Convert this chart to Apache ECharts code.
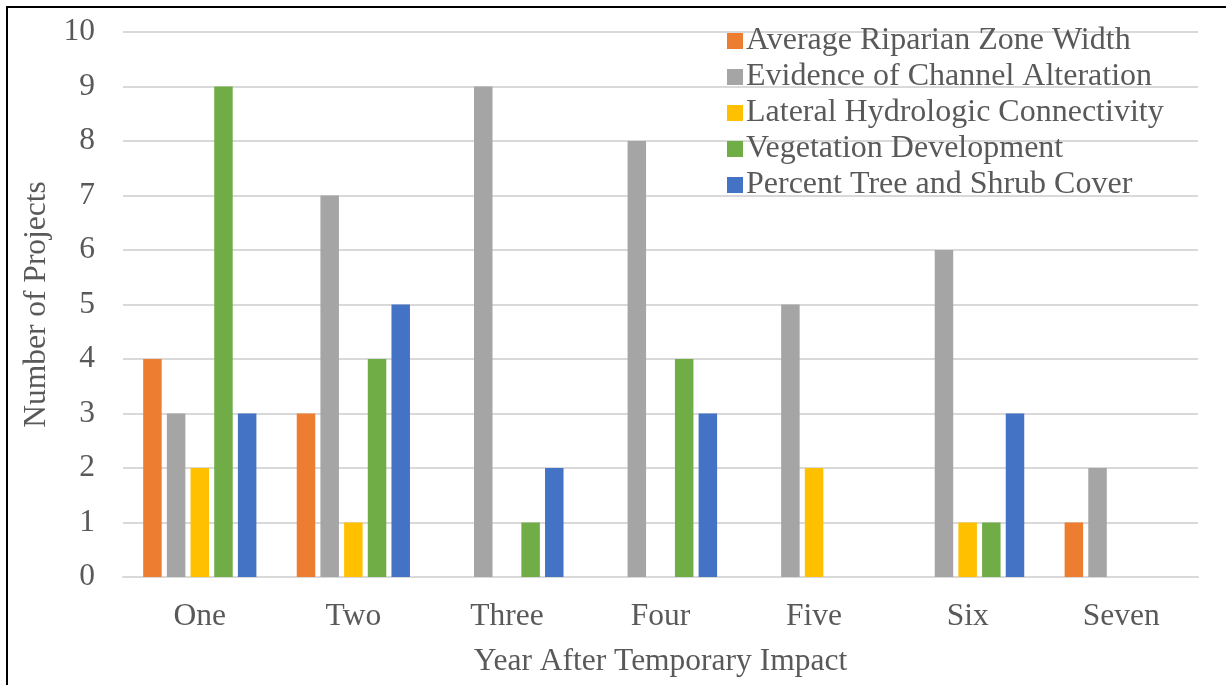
<!DOCTYPE html>
<html>
<head>
<meta charset="utf-8">
<script src="https://cdn.jsdelivr.net/npm/echarts@6/dist/echarts.min.js"></script>
<style>
  html, body { margin: 0; padding: 0; background: #fff; }
  #frame { position: absolute; left: 6px; top: 6px; width: 1220px; height: 679px;
           border-left: 2px solid #000; border-top: 2px solid #000; box-sizing: border-box; }
  #chart { position: absolute; left: 0; top: 0; width: 1226px; height: 685px; }
</style>
</head>
<body>
<div id="frame"></div>
<div id="chart"></div>
<script>
// Project counts per monitoring year, one array per assessment metric
const years = ['One', 'Two', 'Three', 'Four', 'Five', 'Six', 'Seven'];
const riparianWidth = [4, 3, 0, 0, 0, 0, 1];
const channelAlteration = [3, 7, 9, 8, 5, 6, 2];
const lateralConnectivity = [2, 1, 0, 0, 2, 1, 0];
const vegetationDevelopment = [9, 4, 1, 4, 0, 1, 0];
const treeShrubCover = [3, 5, 2, 3, 0, 3, 0];
const yTicks = [0, 10, 1]; // min, max, interval

const seriesDefs = [
  { name: 'Average Riparian Zone Width', data: riparianWidth, color: '#ED7D31' },
  { name: 'Evidence of Channel Alteration', data: channelAlteration, color: '#A5A5A5' },
  { name: 'Lateral Hydrologic Connectivity', data: lateralConnectivity, color: '#FFC000' },
  { name: 'Vegetation Development', data: vegetationDevelopment, color: '#70AD47' },
  { name: 'Percent Tree and Shrub Cover', data: treeShrubCover, color: '#4472C4' }
];

const font = '"Liberation Serif", "Times New Roman", serif';
const textColor = '#595959';
const fs = 31.5;

const chart = echarts.init(document.getElementById('chart'));
chart.setOption({
  animation: false,
  backgroundColor: 'transparent',
  textStyle: { fontFamily: font },
  grid: { left: 123, right: 28, top: 32, bottom: 108, containLabel: false },
  legend: {
    orient: 'vertical',
    left: 722,
    top: 20,
    icon: 'rect',
    itemWidth: 16,
    itemHeight: 16,
    itemGap: 4,
    textStyle: { fontFamily: font, fontSize: 32, color: textColor, lineHeight: 30, padding: [0, 0, 0, -2] },
    data: seriesDefs.map(s => s.name)
  },
  xAxis: {
    type: 'category',
    data: years,
    name: 'Year After Temporary Impact',
    nameLocation: 'middle',
    nameGap: 69,
    nameTextStyle: { fontFamily: font, fontSize: fs, color: textColor },
    axisLine: { lineStyle: { color: '#D9D9D9', width: 2 } },
    axisTick: { show: false },
    axisLabel: { fontFamily: font, fontSize: fs, color: textColor, margin: 24 }
  },
  yAxis: {
    type: 'value',
    min: yTicks[0],
    max: yTicks[1],
    interval: yTicks[2],
    name: 'Number of Projects',
    nameLocation: 'middle',
    nameRotate: 90,
    nameGap: 68,
    nameTextStyle: { fontFamily: font, fontSize: fs, color: textColor },
    axisLine: { show: false },
    axisTick: { show: false },
    axisLabel: { fontFamily: font, fontSize: fs, color: textColor, margin: 28 },
    splitLine: { lineStyle: { color: '#D9D9D9', width: 2 } }
  },
  series: seriesDefs.map(s => ({
    name: s.name,
    type: 'bar',
    data: s.data,
    barWidth: 18.5,
    barGap: '28%',
    itemStyle: { color: s.color }
  }))
});
</script>
</body>
</html>
